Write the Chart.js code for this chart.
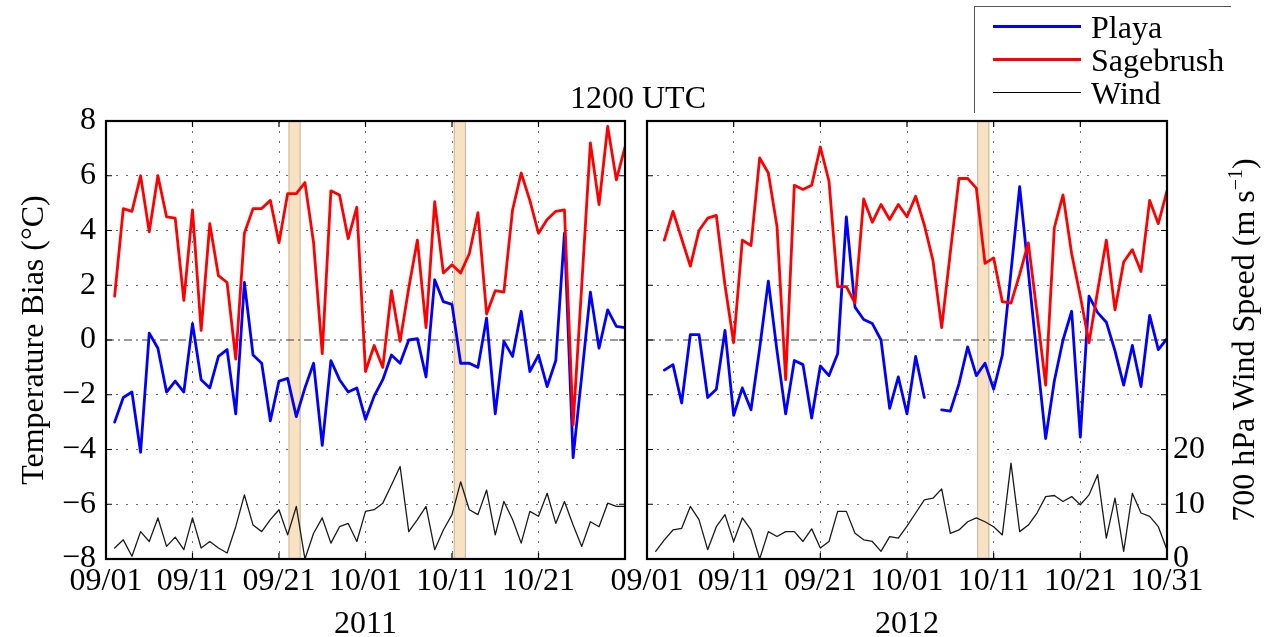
<!DOCTYPE html>
<html>
<head>
<meta charset="utf-8">
<script src="https://cdn.jsdelivr.net/npm/chart.js@4.4.1/dist/chart.umd.min.js"></script>
<style>
html,body{margin:0;padding:0;background:#fff;overflow:hidden;width:1264px;height:637px;}
#wrap{position:relative;width:1264px;height:637px;font-family:'Liberation Serif','Times New Roman',serif;color:#000;overflow:hidden;}
canvas{position:absolute;top:0;}
#cL{left:0;}
#cR{left:560px;}
.txt{position:absolute;font-size:32px;line-height:34px;white-space:nowrap;}
#title{left:538px;width:200px;top:80px;text-align:center;}
#legendBox{position:absolute;left:974px;top:6px;width:256px;height:106px;border-top:1px solid #555;border-left:1px solid #555;}
.sw{position:absolute;left:993px;width:88px;}
#wtitle{position:absolute;left:1023px;top:322px;width:440px;height:36px;line-height:36px;text-align:center;font-size:32px;transform:rotate(-90deg);white-space:nowrap;}
#wtitle sup{font-size:20px;line-height:0;}
</style>
</head>
<body>
<div id="wrap">
  <canvas id="cL" width="640" height="650"></canvas>
  <canvas id="cR" width="704" height="650"></canvas>
  <div id="title" class="txt">1200 UTC</div>
  <div id="legendBox"></div>
  <div class="sw" style="top:25px;border-top:3px solid #0000ff;"></div>
  <div class="sw" style="top:58px;border-top:3px solid #ff0000;"></div>
  <div class="sw" style="top:92px;border-top:1.5px solid #000;"></div>
  <div class="txt" style="left:1091px;top:10px;">Playa</div>
  <div class="txt" style="left:1091px;top:43px;">Sagebrush</div>
  <div class="txt" style="left:1091px;top:76px;">Wind</div>
  <div id="wtitle">700 hPa Wind Speed (m s<sup>−1</sup>)</div>
</div>
<script>
// ---------- data ----------
// day offset from 09/01 for each observation (09/02 ... 10/31)
const days = [1,2,3,4,5,6,7,8,9,10,11,12,13,14,15,16,17,18,19,20,
              21,22,23,24,25,26,27,28,29,30,31,32,33,34,35,36,37,38,39,40,
              41,42,43,44,45,46,47,48,49,50,51,52,53,54,55,56,57,58,59,60];
const tickDays = [0,10,20,30,40,50,60];
const tickLabels2011 = ['09/01','09/11','09/21','10/01','10/11','10/21',''];
const tickLabels2012 = ['09/01','09/11','09/21','10/01','10/11','10/21','10/31'];
const tempTicks = [-8,-6,-4,-2,0,2,4,6,8];
const windTicks = [0,10,20];

const playa2011 = [-3.0,-2.1,-1.9,-4.1,0.25,-0.3,-1.9,-1.5,-1.9,0.6,
                   -1.45,-1.75,-0.6,-0.35,-2.7,2.1,-0.55,-0.85,-2.95,-1.5,
                   -1.4,-2.8,-1.75,-0.85,-3.85,-0.75,-1.45,-1.9,-1.75,-2.9,
                   -2.05,-1.45,-0.55,-0.85,0.0,0.05,-1.35,2.2,1.4,1.3,
                   -0.85,-0.85,-1.0,0.8,-2.7,-0.05,-0.6,1.05,-1.15,-0.55,
                   -1.7,-0.75,3.9,-4.3,-1.3,1.75,-0.3,1.1,0.5,0.45];
const sage2011 = [1.6,4.8,4.7,6.0,3.95,6.0,4.5,4.45,1.45,4.75,
                  0.35,4.25,2.35,2.1,-0.7,3.9,4.8,4.8,5.1,3.55,
                  5.35,5.35,5.75,3.55,-0.5,5.45,5.3,3.7,4.85,-1.15,
                  -0.2,-1.0,1.8,-0.05,1.9,3.65,0.45,5.05,2.45,2.75,
                  2.45,3.15,4.65,0.95,1.8,1.75,4.75,6.1,5.1,3.9,
                  4.4,4.7,4.75,-3.1,2.0,7.2,4.95,7.8,5.85,7.05];
const wind2011 = [2.0,3.5,0.5,5.0,3.2,7.5,2.3,4.0,1.7,7.5,
                  2.0,3.2,2.0,1.1,5.9,11.7,6.2,5.0,7.2,9.0,
                  4.4,9.6,0.0,4.7,7.5,2.9,5.9,6.5,3.2,8.7,
                  9.0,10.2,13.5,16.9,5.0,7.2,9.6,1.7,5.3,8.1,
                  14.1,9.0,8.1,12.6,4.4,10.5,7.2,2.9,8.7,7.8,
                  12.0,6.5,10.5,6.2,2.3,6.8,5.9,10.2,9.6,9.6];

const playa2012 = [null,-1.1,-0.9,-2.3,0.2,0.2,-2.1,-1.8,0.35,-2.75,
                   -1.75,-2.55,-0.3,2.15,-0.4,-2.7,-0.75,-0.9,-2.85,-0.95,
                   -1.3,-0.5,4.5,1.2,0.75,0.6,0.0,-2.5,-1.35,-2.7,
                   -0.6,-2.1,null,-2.55,-2.6,-1.6,-0.25,-1.3,-0.85,-1.8,
                   -0.55,2.5,5.6,2.5,-0.6,-3.6,-1.5,0.0,1.05,-3.55,
                   1.6,1.0,0.65,-0.4,-1.65,-0.2,-1.7,0.9,-0.35,0.05];
const sage2012 = [null,3.65,4.7,3.7,2.7,4.0,4.45,4.55,2.0,-0.1,
                  3.65,3.45,6.65,6.1,4.15,-1.45,5.65,5.5,5.65,7.05,
                  5.8,1.95,1.95,1.35,5.15,4.3,4.95,4.4,4.95,4.5,
                  5.25,4.2,2.9,0.45,3.2,5.9,5.9,5.55,2.8,3.0,
                  1.4,1.35,2.4,3.55,1.0,-1.65,4.1,5.3,3.15,1.6,
                  -0.1,1.8,3.65,1.1,2.85,3.3,2.5,5.1,4.25,5.45];
const wind2012 = [1.4,3.5,5.3,5.6,9.6,7.2,1.7,5.9,8.1,3.2,
                  7.5,5.3,0.0,5.0,4.1,5.0,5.0,3.2,5.5,2.0,
                  3.2,8.7,8.7,4.7,3.5,3.2,1.4,4.1,3.8,6.0,
                  8.4,10.8,11.1,12.8,4.7,5.3,6.8,7.5,6.8,5.9,
                  4.4,17.5,5.0,6.2,8.4,11.4,11.6,10.5,11.4,9.9,
                  11.7,15.4,3.8,11.1,1.4,12.0,8.4,7.8,5.9,1.7];

// shaded periods (day offsets from 09/01)
const bands2011 = [[21.1,22.5],[40.2,41.6]];
const bands2012 = [[38.1,39.5]];

// ---------- helpers ----------
const FONT = "'Liberation Serif','Times New Roman',serif";
const FS = 32;
const pts = vals => vals.map((v,i) => ({x: days[i], y: v}));

function makeDatasets(playa, sage, wind){
  return [
    {label:'Sagebrush', data:pts(sage), borderColor:'#ff0000', borderWidth:2.8, yAxisID:'y', order:0},
    {label:'Playa', data:pts(playa), borderColor:'#0000ff', borderWidth:2.8, yAxisID:'y', order:1},
    {label:'Wind', data:pts(wind), borderColor:'#1a1a1a', borderWidth:1.3, yAxisID:'yw', order:2}
  ].map(d => Object.assign(d, {pointRadius:0, tension:0, spanGaps:false, fill:false,
                                 borderJoinStyle:'round', borderCapStyle:'round'}));
}

function panelPlugin(bands){
  return {
    id:'panel',
    beforeDatasetsDraw(chart){
      const {ctx, chartArea:a, scales:{x, y}} = chart;
      ctx.save();
      bands.forEach(([s,e]) => {
        const x0 = x.getPixelForValue(s), x1 = x.getPixelForValue(e);
        ctx.fillStyle = '#f9e2c3';
        ctx.fillRect(x0, a.top, x1 - x0, a.bottom - a.top);
        ctx.strokeStyle = '#c9b59b';
        ctx.lineWidth = 1;
        ctx.strokeRect(x0 + 0.5, a.top, x1 - x0 - 1, a.bottom - a.top);
      });
      const y0 = y.getPixelForValue(0);
      ctx.strokeStyle = '#3a3a3a';
      ctx.lineWidth = 1;
      ctx.setLineDash([8,4,2,4]);
      ctx.beginPath();
      ctx.moveTo(a.left, y0); ctx.lineTo(a.right, y0);
      ctx.stroke();
      ctx.restore();
    },
    afterDatasetsDraw(chart){
      const {ctx, chartArea:a, scales:{x, y}} = chart;
      ctx.save();
      ctx.strokeStyle = '#000';
      ctx.lineWidth = 1.2;
      ctx.beginPath();
      tempTicks.forEach(v => {
        const p = y.getPixelForValue(v);
        ctx.moveTo(a.left, p); ctx.lineTo(a.left + 6, p);
        ctx.moveTo(a.right, p); ctx.lineTo(a.right - 6, p);
      });
      tickDays.forEach(v => {
        const p = x.getPixelForValue(v);
        ctx.moveTo(p, a.top); ctx.lineTo(p, a.top + 6);
        ctx.moveTo(p, a.bottom); ctx.lineTo(p, a.bottom - 6);
      });
      ctx.stroke();
      ctx.lineWidth = 2.2;
      ctx.strokeRect(a.left, a.top, a.right - a.left, a.bottom - a.top);
      ctx.restore();
    }
  };
}

const gridColor = ctx => (ctx.tick && ctx.tick.value === 0) ? 'rgba(0,0,0,0)' : 'rgba(60,60,60,0.75)';

function xScale(labels, year){
  return {
    type:'linear', min:0, max:60,
    afterBuildTicks: s => { s.ticks = tickDays.map(v => ({value:v})); },
    afterFit: s => { s.height = 91; },
    ticks:{autoSkip:false, maxRotation:0, padding:3, color:'#000',
           font:{family:FONT, size:FS}, callback: v => labels[tickDays.indexOf(v)] || ''},
    grid:{drawTicks:false, color:'rgba(60,60,60,0.75)', lineWidth:1},
    border:{display:false, dash:[2,8]},
    title:{display:true, text:year, color:'#000', font:{family:FONT, size:FS}, padding:{top:0, bottom:6}}
  };
}

function yScale(showLabels){
  return {
    type:'linear', position:'left', min:-8, max:8,
    afterBuildTicks: s => { s.ticks = tempTicks.map(v => ({value:v})); },
    afterFit: s => { s.width = showLabels ? 106 : 87; },
    ticks:{display:showLabels, padding:10, color:'#000', font:{family:FONT, size:FS},
           callback: v => String(v).replace('-', '\u2212')},
    grid:{drawTicks:false, color:gridColor, lineWidth:1},
    border:{display:false, dash:[2,8]},
    title:{display:showLabels, text:'Temperature Bias (\u00B0C)', color:'#000',
           font:{family:FONT, size:FS}, padding:{top:15, bottom:0}}
  };
}

function windScale(show){
  return {
    type:'linear', position:'right', min:0, max:80, display:show,
    afterBuildTicks: s => { s.ticks = windTicks.map(v => ({value:v})); },
    afterFit: s => { s.width = show ? 97 : 0; },
    ticks:{padding:6, color:'#000', font:{family:FONT, size:FS}},
    grid:{drawOnChartArea:false, drawTicks:false},
    border:{display:false}
  };
}

const common = {
  responsive:false, animation:false, devicePixelRatio:1,
  plugins:{legend:{display:false}, tooltip:{enabled:false}},
  events:[]
};

new Chart(document.getElementById('cL'), {
  type:'line',
  data:{datasets: makeDatasets(playa2011, sage2011, wind2011)},
  options:Object.assign({}, common, {
    layout:{padding:{top:121, right:15, left:0, bottom:0}},
    scales:{x:xScale(tickLabels2011, '2011'), y:yScale(true), yw:windScale(false)}
  }),
  plugins:[panelPlugin(bands2011)]
});

new Chart(document.getElementById('cR'), {
  type:'line',
  data:{datasets: makeDatasets(playa2012, sage2012, wind2012)},
  options:Object.assign({}, common, {
    layout:{padding:{top:121, right:0, left:0, bottom:0}},
    scales:{x:xScale(tickLabels2012, '2012'), y:yScale(false), yw:windScale(true)}
  }),
  plugins:[panelPlugin(bands2012)]
});
</script>
</body>
</html>
